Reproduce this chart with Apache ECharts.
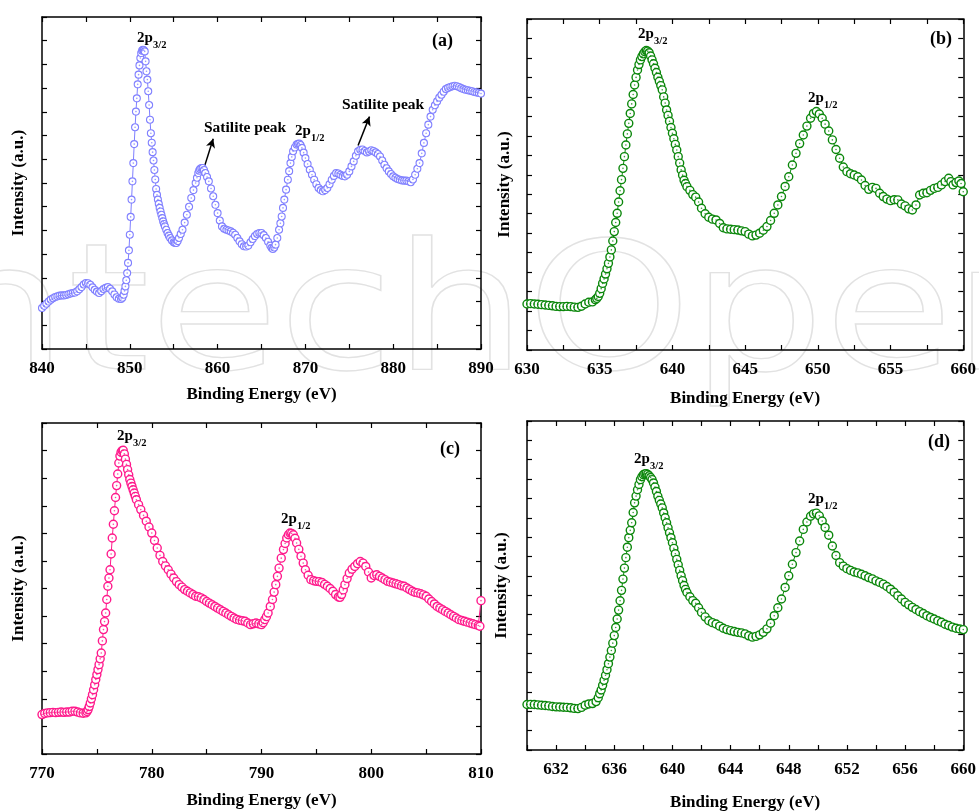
<!DOCTYPE html>
<html>
<head>
<meta charset="utf-8">
<script src="https://cdn.jsdelivr.net/npm/echarts@6/dist/echarts.min.js"></script>
<style>
  html, body { margin: 0; padding: 0; background: #fff; }
  #main { width: 979px; height: 812px; }
</style>
</head>
<body>
<div id="main"></div>
<script>
// [binding energy (eV), intensity (a.u.)]

// (a)
var spectrumA = [[840,1.73],[840.25,1.82],[840.5,1.91],[840.75,2.0],[841,2.08],[841.25,2.14],[841.5,2.19],[841.75,2.22],[842,2.25],[842.25,2.26],
  [842.5,2.26],[842.75,2.28],[843,2.31],[843.25,2.34],[843.5,2.36],[843.75,2.38],[844,2.43],[844.25,2.52],[844.5,2.61],[844.75,2.72],
  [845,2.78],[845.25,2.77],[845.5,2.71],[845.75,2.6],[846,2.5],[846.25,2.42],[846.5,2.36],[846.75,2.44],[847,2.53],[847.25,2.58],
  [847.5,2.61],[847.75,2.54],[848,2.43],[848.25,2.3],[848.5,2.18],[848.75,2.12],[849,2.11],[849.15,2.16],[849.3,2.29],[849.4,2.45],
  [849.5,2.64],[849.6,2.9],[849.7,3.2],[849.8,3.63],[849.9,4.16],[850,4.82],[850.1,5.57],[850.2,6.3],[850.3,7.07],[850.4,7.84],
  [850.5,8.64],[850.6,9.35],[850.7,10.01],[850.8,10.57],[850.9,11.16],[851,11.57],[851.1,11.96],[851.2,12.27],[851.3,12.48],[851.4,12.58],
  [851.5,12.62],[851.6,12.6],[851.7,12.55],[851.8,12.13],[851.9,11.71],[852,11.36],[852.1,10.87],[852.2,10.29],[852.3,9.67],[852.4,9.1],
  [852.5,8.7],[852.6,8.3],[852.7,7.95],[852.8,7.55],[852.9,7.15],[853,6.75],[853.1,6.5],[853.2,6.3],[853.3,6.12],[853.4,5.95],
  [853.5,5.8],[853.6,5.66],[853.7,5.52],[853.8,5.38],[853.9,5.27],[854,5.17],[854.15,5.03],[854.3,4.89],[854.45,4.78],[854.6,4.68],
  [854.8,4.58],[855,4.5],[855.15,4.47],[855.3,4.47],[855.45,4.55],[855.6,4.68],[855.8,4.85],[856,5.03],[856.25,5.33],[856.5,5.66],
  [856.75,6.0],[857,6.37],[857.25,6.7],[857.5,7.0],[857.65,7.22],[857.8,7.42],[857.9,7.52],[858,7.59],[858.15,7.63],[858.3,7.63],
  [858.45,7.55],[858.6,7.42],[858.8,7.25],[859,7.07],[859.25,6.77],[859.5,6.44],[859.75,6.08],[860,5.73],[860.25,5.42],[860.5,5.17],
  [860.75,5.07],[861,5.03],[861.25,5.0],[861.5,4.96],[861.75,4.9],[862,4.82],[862.25,4.68],[862.5,4.54],[862.75,4.42],[863,4.33],
  [863.25,4.32],[863.5,4.36],[863.75,4.5],[864,4.64],[864.25,4.76],[864.5,4.85],[864.75,4.89],[865,4.89],[865.25,4.8],[865.5,4.68],
  [865.75,4.52],[866,4.36],[866.15,4.27],[866.3,4.22],[866.45,4.28],[866.6,4.4],[866.8,4.68],[867,5.03],[867.15,5.3],[867.3,5.59],
  [867.45,5.95],[867.6,6.3],[867.8,6.72],[868,7.14],[868.15,7.5],[868.3,7.84],[868.45,8.1],[868.6,8.34],[868.8,8.5],[869,8.62],
  [869.15,8.65],[869.3,8.66],[869.45,8.6],[869.6,8.48],[869.8,8.28],[870,8.05],[870.25,7.8],[870.5,7.56],[870.75,7.35],[871,7.14],
  [871.25,6.95],[871.5,6.79],[871.75,6.7],[872,6.65],[872.25,6.7],[872.5,6.79],[872.75,6.95],[873,7.14],[873.25,7.3],[873.5,7.42],
  [873.75,7.4],[874,7.35],[874.25,7.3],[874.5,7.28],[874.75,7.35],[875,7.49],[875.25,7.7],[875.5,7.91],[875.75,8.15],[876,8.34],
  [876.25,8.4],[876.5,8.41],[876.75,8.35],[877,8.29],[877.25,8.33],[877.5,8.38],[877.75,8.35],[878,8.29],[878.25,8.22],[878.5,8.12],
  [878.75,7.95],[879,7.77],[879.25,7.62],[879.5,7.49],[879.75,7.38],[880,7.28],[880.25,7.22],[880.5,7.17],[880.75,7.14],[881,7.11],
  [881.25,7.1],[881.5,7.1],[881.75,7.07],[882,7.03],[882.25,7.15],[882.5,7.35],[882.75,7.6],[883,7.84],[883.25,8.25],[883.5,8.69],
  [883.75,9.1],[884,9.46],[884.25,9.8],[884.5,10.09],[884.75,10.28],[885,10.44],[885.25,10.6],[885.5,10.72],[885.75,10.85],[886,10.96],
  [886.25,11.01],[886.5,11.05],[886.75,11.08],[887,11.1],[887.25,11.08],[887.5,11.05],[887.75,11.0],[888,10.96],[888.25,10.93],[888.5,10.91],
  [888.75,10.89],[889,10.87],[889.25,10.84],[889.5,10.82],[889.75,10.8],[890,10.77]];

// (b)
var spectrumB = [[630,2.36],[630.25,2.38],[630.5,2.36],[630.75,2.35],[631,2.33],[631.25,2.31],[631.5,2.29],[631.75,2.27],[632,2.24],[632.25,2.23],
  [632.5,2.23],[632.75,2.24],[633,2.23],[633.25,2.2],[633.5,2.19],[633.75,2.25],[634,2.36],[634.25,2.45],[634.5,2.47],[634.7,2.58],
  [634.8,2.65],[634.9,2.75],[635,2.91],[635.1,3.15],[635.2,3.42],[635.3,3.65],[635.4,3.9],[635.5,4.17],[635.6,4.45],[635.7,4.78],
  [635.8,5.14],[635.9,5.6],[636,6.08],[636.1,6.55],[636.2,7.02],[636.3,7.6],[636.4,8.18],[636.5,8.75],[636.6,9.33],[636.7,9.93],
  [636.8,10.53],[636.9,11.1],[637,11.64],[637.1,12.15],[637.2,12.64],[637.3,13.12],[637.4,13.61],[637.5,14.0],[637.6,14.38],[637.7,14.66],
  [637.8,14.9],[637.9,15.07],[638,15.21],[638.1,15.32],[638.2,15.38],[638.3,15.35],[638.4,15.27],[638.5,15.1],[638.6,14.9],[638.7,14.7],
  [638.8,14.47],[638.9,14.25],[639,14.01],[639.1,13.8],[639.2,13.58],[639.3,13.36],[639.4,13.0],[639.5,12.68],[639.6,12.33],[639.7,12.05],
  [639.8,11.75],[639.9,11.43],[640,11.13],[640.1,10.85],[640.2,10.56],[640.3,10.27],[640.4,9.93],[640.5,9.6],[640.6,9.25],[640.7,8.98],
  [640.8,8.72],[640.9,8.55],[641,8.39],[641.2,8.2],[641.4,7.98],[641.6,7.85],[641.8,7.6],[642,7.28],[642.25,7.0],[642.5,6.82],
  [642.75,6.72],[643,6.68],[643.25,6.5],[643.5,6.28],[643.75,6.22],[644,6.2],[644.25,6.18],[644.5,6.16],[644.75,6.12],[645,6.08],
  [645.25,5.95],[645.5,5.86],[645.75,5.9],[646,6.0],[646.25,6.15],[646.5,6.34],[646.75,6.65],[647,7.02],[647.25,7.45],[647.5,7.88],
  [647.75,8.4],[648,8.9],[648.25,9.5],[648.5,10.1],[648.75,10.6],[649,11.04],[649.25,11.5],[649.5,11.9],[649.7,12.15],[649.9,12.25],
  [650.1,12.12],[650.3,11.9],[650.5,11.6],[650.75,11.25],[651,10.79],[651.25,10.3],[651.5,9.85],[651.75,9.4],[652,9.16],[652.25,9.05],
  [652.5,8.99],[652.75,8.9],[653,8.73],[653.25,8.45],[653.5,8.25],[653.75,8.35],[654,8.3],[654.25,8.05],[654.5,7.88],[654.75,7.75],
  [655,7.67],[655.25,7.72],[655.5,7.71],[655.75,7.5],[656,7.4],[656.25,7.25],[656.5,7.19],[656.75,7.45],[657,7.96],[657.25,8.05],
  [657.5,8.08],[657.75,8.2],[658,8.3],[658.25,8.35],[658.5,8.48],[658.75,8.65],[659,8.82],[659.15,8.65],[659.3,8.48],[659.5,8.6],
  [659.7,8.68],[659.85,8.55],[660,8.13]];

// (c)
var spectrumC = [[770,1.43],[770.25,1.47],[770.5,1.49],[770.75,1.5],[771,1.51],[771.25,1.5],[771.5,1.51],[771.75,1.52],[772,1.51],[772.25,1.52],
  [772.5,1.52],[772.75,1.55],[773,1.55],[773.25,1.52],[773.5,1.49],[773.75,1.48],[774,1.49],[774.1,1.54],[774.2,1.61],[774.3,1.72],
  [774.4,1.85],[774.5,2.0],[774.6,2.15],[774.7,2.33],[774.8,2.51],[774.9,2.7],[775,2.88],[775.1,3.06],[775.2,3.24],[775.3,3.45],
  [775.4,3.66],[775.5,4.1],[775.6,4.51],[775.7,4.8],[775.8,5.11],[775.9,5.6],[776,6.08],[776.1,6.38],[776.2,6.68],[776.3,7.25],
  [776.4,7.83],[776.5,8.33],[776.6,8.82],[776.7,9.3],[776.8,9.73],[776.9,10.15],[777,10.55],[777.1,10.8],[777.2,10.94],[777.3,11.0],
  [777.4,11.01],[777.5,10.88],[777.6,10.69],[777.7,10.5],[777.8,10.31],[777.9,10.12],[778,9.95],[778.1,9.82],[778.2,9.7],[778.3,9.58],
  [778.4,9.46],[778.5,9.34],[778.6,9.22],[778.8,9.04],[779,8.86],[779.25,8.65],[779.5,8.44],[779.75,8.23],[780,8.01],[780.25,7.74],
  [780.5,7.47],[780.75,7.2],[781,6.98],[781.25,6.82],[781.5,6.68],[781.75,6.52],[782,6.38],[782.25,6.25],[782.5,6.14],[782.75,6.05],
  [783,5.96],[783.25,5.9],[783.5,5.84],[783.75,5.78],[784,5.72],[784.25,5.7],[784.5,5.66],[784.75,5.6],[785,5.53],[785.25,5.47],
  [785.5,5.41],[785.75,5.35],[786,5.29],[786.25,5.23],[786.5,5.17],[786.75,5.11],[787,5.05],[787.25,4.99],[787.5,4.93],[787.75,4.88],
  [788,4.85],[788.25,4.83],[788.5,4.81],[788.75,4.75],[789,4.69],[789.25,4.72],[789.5,4.75],[789.75,4.72],[790,4.69],[790.15,4.76],
  [790.3,4.87],[790.45,4.98],[790.6,5.11],[790.8,5.35],[791,5.6],[791.15,5.87],[791.3,6.14],[791.45,6.44],[791.6,6.74],[791.8,7.1],
  [792,7.41],[792.15,7.63],[792.3,7.83],[792.45,7.95],[792.6,8.01],[792.75,8.0],[792.9,7.95],[793.05,7.82],[793.2,7.65],[793.4,7.42],
  [793.6,7.17],[793.8,6.92],[794,6.68],[794.25,6.48],[794.5,6.32],[794.75,6.28],[795,6.26],[795.25,6.25],[795.5,6.22],[795.75,6.15],
  [796,6.08],[796.25,6.0],[796.5,5.9],[796.75,5.78],[797,5.69],[797.15,5.68],[797.3,5.78],[797.45,5.95],[797.6,6.14],[797.8,6.36],
  [798,6.56],[798.25,6.7],[798.5,6.8],[798.75,6.9],[799,6.98],[799.25,6.92],[799.5,6.8],[799.75,6.6],[800,6.38],[800.25,6.47],
  [800.5,6.5],[800.75,6.44],[801,6.38],[801.25,6.32],[801.5,6.26],[801.75,6.23],[802,6.2],[802.25,6.17],[802.5,6.14],[802.75,6.1],
  [803,6.08],[803.25,6.02],[803.5,5.96],[803.75,5.9],[804,5.86],[804.25,5.84],[804.5,5.81],[804.75,5.77],[805,5.72],[805.25,5.62],
  [805.5,5.53],[805.75,5.44],[806,5.35],[806.25,5.29],[806.5,5.23],[806.75,5.17],[807,5.11],[807.25,5.05],[807.5,4.99],[807.75,4.93],
  [808,4.87],[808.25,4.84],[808.5,4.81],[808.75,4.78],[809,4.75],[809.25,4.72],[809.5,4.69],[809.75,4.66],[809.9,4.63],[810,5.56]];

// (d)
var spectrumD = [[630,2.35],[630.25,2.36],[630.5,2.35],[630.75,2.33],[631,2.31],[631.25,2.3],[631.5,2.28],[631.75,2.25],[632,2.23],[632.25,2.22],
  [632.5,2.21],[632.75,2.2],[633,2.18],[633.25,2.15],[633.5,2.14],[633.75,2.2],[634,2.31],[634.25,2.38],[634.5,2.4],[634.75,2.5],
  [634.9,2.7],[635,2.91],[635.1,3.1],[635.2,3.34],[635.3,3.6],[635.4,3.86],[635.5,4.15],[635.6,4.46],[635.7,4.8],[635.8,5.14],
  [635.9,5.52],[636,5.91],[636.1,6.33],[636.2,6.77],[636.3,7.23],[636.4,7.71],[636.5,8.25],[636.6,8.83],[636.7,9.4],[636.8,9.94],
  [636.9,10.48],[637,10.97],[637.1,11.35],[637.2,11.74],[637.3,12.27],[637.4,12.77],[637.5,13.12],[637.6,13.45],[637.7,13.72],[637.8,13.97],
  [637.9,14.12],[638,14.22],[638.1,14.27],[638.2,14.28],[638.3,14.24],[638.4,14.17],[638.5,14.08],[638.6,13.97],[638.7,13.8],[638.8,13.59],
  [638.9,13.36],[639,13.11],[639.1,12.9],[639.2,12.71],[639.3,12.51],[639.4,12.25],[639.5,12.0],[639.6,11.74],[639.7,11.48],[639.8,11.22],
  [639.9,10.97],[640,10.71],[640.1,10.42],[640.2,10.14],[640.3,9.85],[640.4,9.57],[640.5,9.28],[640.6,9.0],[640.7,8.75],[640.8,8.5],
  [640.9,8.3],[641,8.14],[641.2,7.92],[641.4,7.72],[641.6,7.58],[641.8,7.35],[642,7.11],[642.25,6.88],[642.5,6.68],[642.75,6.58],
  [643,6.51],[643.25,6.4],[643.5,6.29],[643.75,6.22],[644,6.17],[644.25,6.12],[644.5,6.08],[644.75,6.05],[645,6.0],[645.25,5.9],
  [645.5,5.83],[645.75,5.87],[646,5.95],[646.25,6.08],[646.5,6.26],[646.75,6.55],[647,6.94],[647.25,7.35],[647.5,7.8],[647.75,8.4],
  [648,9.0],[648.25,9.6],[648.5,10.2],[648.75,10.8],[649,11.4],[649.25,11.78],[649.5,12.08],[649.7,12.2],[649.9,12.24],[650.1,12.1],
  [650.3,11.83],[650.5,11.5],[650.75,11.1],[651,10.54],[651.25,10.05],[651.5,9.68],[651.75,9.5],[652,9.37],[652.25,9.28],[652.5,9.2],
  [652.75,9.15],[653,9.08],[653.25,9.0],[653.5,8.91],[653.75,8.84],[654,8.74],[654.25,8.66],[654.5,8.57],[654.75,8.45],[655,8.31],
  [655.25,8.15],[655.5,7.97],[655.75,7.8],[656,7.63],[656.25,7.5],[656.5,7.37],[656.75,7.26],[657,7.15],[657.25,7.05],[657.5,6.94],
  [657.75,6.85],[658,6.77],[658.25,6.68],[658.5,6.6],[658.75,6.5],[659,6.43],[659.25,6.35],[659.5,6.29],[659.75,6.25],[660,6.22]];

var panelLabels = ['(a)', '(b)', '(c)', '(d)'];
var xName = 'Binding Energy (eV)';
var yName = 'Intensity (a.u.)';

var serif = '"Liberation Serif", "Times New Roman", serif';

// grid boxes in px
var grids = [
  { left: 42, top: 17, width: 439, height: 332 },
  { left: 527, top: 19, width: 439, height: 331 },
  { left: 42, top: 423, width: 439, height: 331 },
  { left: 527, top: 421, width: 439, height: 331 }
];

var xCfg = [
  { min: 840, max: 890, interval: 5, show: function (v) { return v % 10 === 0; }, nameGap: 37 },
  { min: 630, max: 660, interval: 2.5, show: function (v) { return v % 5 === 0; }, nameGap: 40 },
  { min: 770, max: 810, interval: 5, show: function (v) { return v % 10 === 0; }, nameGap: 38 },
  { min: 630, max: 660, interval: 2, show: function (v) { return (v - 632) % 4 === 0; }, nameGap: 44 }
];
var yCfg = [
  { max: 14, nameGap: 15 },
  { max: 17, nameGap: 14 },
  { max: 12, nameGap: 15 },
  { max: 17, nameGap: 17 }
];

var axisLine = { show: true, onZero: false, lineStyle: { color: '#000', width: 1.5 } };
var tick = { show: true, inside: true, length: 5, lineStyle: { color: '#000', width: 1.2 } };

var xAxes = [], yAxes = [];
xCfg.forEach(function (c, i) {
  xAxes.push({
    type: 'value', gridIndex: i, min: c.min, max: c.max, interval: c.interval,
    position: 'bottom',
    name: xName, nameLocation: 'middle', nameGap: c.nameGap,
    nameTextStyle: { fontFamily: serif, fontWeight: 'bold', fontSize: 17, color: '#000' },
    axisLine: axisLine, axisTick: tick, splitLine: { show: false },
    axisLabel: {
      margin: 11, fontFamily: serif, fontWeight: 'bold', fontSize: 17, color: '#000',
      formatter: function (v) { return c.show(v) ? String(v) : ''; }
    }
  });
  xAxes.push({
    type: 'value', gridIndex: i, min: c.min, max: c.max, interval: c.interval,
    position: 'top', axisLine: axisLine, axisTick: tick,
    axisLabel: { show: false }, splitLine: { show: false }
  });
});
yCfg.forEach(function (c, i) {
  yAxes.push({
    type: 'value', gridIndex: i, min: 0, max: c.max, interval: 1, position: 'left',
    name: yName, nameLocation: 'middle', nameGap: c.nameGap,
    nameTextStyle: { fontFamily: serif, fontWeight: 'bold', fontSize: 17, color: '#000' },
    axisLine: axisLine, axisTick: tick, axisLabel: { show: false }, splitLine: { show: false }
  });
  yAxes.push({
    type: 'value', gridIndex: i, min: 0, max: c.max, interval: 1, position: 'right',
    axisLine: axisLine, axisTick: tick, axisLabel: { show: false }, splitLine: { show: false }
  });
});

var colors = ['#8080ff', '#0b870b', '#ff1a8c', '#0b870b'];
var sizes = [7, 8, 8, 8];
var borders = [1.1, 1.4, 1.4, 1.4];
var allData = [spectrumA, spectrumB, spectrumC, spectrumD];

var series = [];
allData.forEach(function (d, i) {
  // open circles joined by a thin line
  series.push({
    type: 'line', xAxisIndex: i * 2, yAxisIndex: i * 2, data: d,
    symbol: 'circle', symbolSize: sizes[i], showAllSymbol: true,
    itemStyle: { color: '#fff', borderColor: colors[i], borderWidth: borders[i] },
    lineStyle: { color: colors[i], width: 1 },
    emphasis: { disabled: true }, z: 5
  });
  // small centre dot inside each circle
  series.push({
    type: 'scatter', xAxisIndex: i * 2, yAxisIndex: i * 2, data: d,
    symbol: 'circle', symbolSize: 1.6, itemStyle: { color: colors[i] },
    emphasis: { disabled: true }, silent: true, z: 6
  });
});

// arrows for satellite peaks in (a)
series[0].markLine = {
  silent: true, symbol: ['none', 'arrow'], symbolSize: [7, 9],
  lineStyle: { color: '#000', width: 1.5, type: 'solid' }, label: { show: false },
  data: [
    [{ coord: [858.5, 7.69] }, { coord: [859.5, 8.87] }],
    [{ coord: [876.0, 8.58] }, { coord: [877.3, 9.8] }]
  ]
};

function txt(x, y, s, size, align, va) {
  return {
    type: 'text', x: x, y: y, z: 20,
    style: {
      text: s, fill: '#000', align: align || 'left', verticalAlign: va || 'top',
      font: 'bold ' + size + 'px ' + serif
    }
  };
}
function peak(x, y, sub) {
  return [txt(x, y, '2p', 15), txt(x + 16, y + 9, sub, 10.5)];
}

var graphics = [];
// faint publisher watermark behind everything
graphics.push({
  type: 'text', x: -127, y: 411, scaleX: 1.19, z: -10, silent: true,
  style: {
    text: 'IntechOpen', fill: 'rgba(255,255,255,0)', stroke: '#e2e2e2', lineWidth: 1.3,
    font: '176px "DejaVu Sans"', align: 'left', verticalAlign: 'bottom'
  }
});
graphics = graphics.concat(
  peak(137, 31, '3/2'), peak(295, 124, '1/2'),
  peak(638, 27, '3/2'), peak(808, 91, '1/2'),
  peak(117, 429, '3/2'), peak(281, 512, '1/2'),
  peak(634, 452, '3/2'), peak(808, 492, '1/2')
);
graphics.push(txt(204, 128, 'Satilite peak', 15.5, 'left', 'middle'));
graphics.push(txt(342, 105, 'Satilite peak', 15.5, 'left', 'middle'));
graphics.push(txt(453, 41, panelLabels[0], 18, 'right', 'middle'));
graphics.push(txt(952, 39, panelLabels[1], 18, 'right', 'middle'));
graphics.push(txt(460, 449, panelLabels[2], 18, 'right', 'middle'));
graphics.push(txt(950, 442, panelLabels[3], 18, 'right', 'middle'));

var myChart = echarts.init(document.getElementById('main'), null, { renderer: 'canvas' });
myChart.setOption({
  animation: false,
  backgroundColor: '#fff',
  grid: grids,
  xAxis: xAxes,
  yAxis: yAxes,
  series: series,
  graphic: graphics
});
</script>
</body>
</html>
